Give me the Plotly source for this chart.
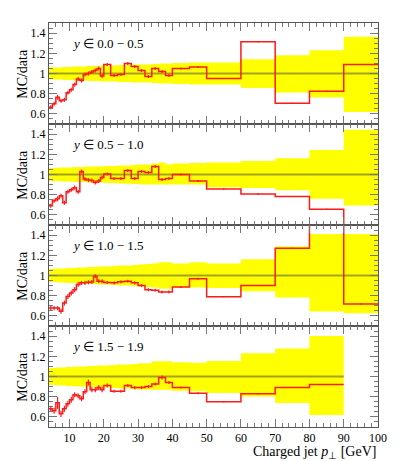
import plotly.graph_objects as go
from plotly.subplots import make_subplots

# bin edges of the charged jet pT histogram (GeV)
pt_edges = [4, 5, 6, 7, 8, 9, 10, 11, 12, 13, 14, 15, 16, 17, 18, 19, 20,
            22, 24, 26, 28, 30, 32, 34, 36, 38, 40, 45, 50, 60, 70, 80, 90, 100]

rap_labels = ["0.0 − 0.5", "0.5 − 1.0", "1.0 − 1.5", "1.5 − 1.9"]

# MC/data ratio per rapidity bin
mc_y1 = [0.665, 0.70, 0.765, 0.73, 0.74, 0.81, 0.84, 0.89, 0.945, 0.93, 0.99, 1.00,
         1.015, 1.03, 1.05, 0.975, 1.09, 0.98, 0.99, 1.10, 1.07, 1.03, 0.97, 1.05,
         1.02, 0.98, 1.05, 1.065, 0.95, 1.315, 0.705, 0.825, 1.09]
mc_y2 = [0.69, 0.74, 0.76, 0.79, 0.72, 0.83, 0.85, 0.87, 0.83, 1.03, 0.955, 0.945,
         0.94, 0.92, 0.935, 0.97, 1.005, 0.96, 0.96, 1.04, 0.96, 1.03, 1.02, 1.08,
         0.95, 0.96, 1.00, 0.935, 0.857, 0.807, 0.783, 0.657, 0.30]
mc_y3 = [0.677, 0.677, 0.677, 0.647, 0.727, 0.793, 0.827, 0.86, 0.91, 0.927, 0.927,
         0.933, 0.935, 0.993, 0.943, 0.943, 0.93, 0.927, 0.937, 0.943, 0.927, 0.90,
         0.86, 0.853, 0.837, 0.837, 0.887, 0.967, 0.79, 0.90, 1.27, 1.80, 0.717]
mc_y4 = [0.68, 0.66, 0.74, 0.63, 0.68, 0.73, 0.77, 0.82, 0.81, 0.78, 0.85, 0.94,
         0.87, 0.87, 0.89, 0.87, 0.91, 0.855, 0.855, 0.91, 0.89, 0.89, 0.90, 0.925,
         0.99, 0.94, 0.89, 0.835, 0.75, 0.83, 0.89, 0.92, None]

# MC statistical errors
err_y1 = [0.02, 0.02, 0.025, 0.02, 0.02, 0.02, 0.02, 0.02, 0.02, 0.02, 0.02, 0.02,
          0.02, 0.02, 0.02, 0.02, 0.015, 0.015, 0.015, 0.015, 0.015, 0.015, 0.015,
          0.015, 0.015, 0.015, 0.01, 0.01, 0.005, 0.005, 0.005, 0.005, 0.005]
err_y2 = err_y1
err_y3 = [0.02, 0.02, 0.02, 0.025, 0.025, 0.025, 0.025, 0.025, 0.025, 0.02, 0.02,
          0.02, 0.02, 0.02, 0.02, 0.02, 0.015, 0.015, 0.015, 0.015, 0.015, 0.015,
          0.015, 0.015, 0.015, 0.015, 0.01, 0.01, 0.005, 0.005, 0.005, 0.005, 0.005]
err_y4 = [0.03, 0.03, 0.06, 0.03, 0.03, 0.03, 0.03, 0.025, 0.025, 0.025, 0.025,
          0.03, 0.025, 0.025, 0.025, 0.025, 0.02, 0.015, 0.015, 0.015, 0.015, 0.015,
          0.015, 0.015, 0.02, 0.015, 0.01, 0.01, 0.005, 0.005, 0.005, 0.005, None]

# data uncertainty band (upper / lower half widths)
up_y1 = [0.06, 0.06, 0.06, 0.06, 0.065, 0.065, 0.065, 0.07, 0.07, 0.07, 0.07, 0.075,
         0.075, 0.075, 0.075, 0.08, 0.08, 0.08, 0.085, 0.085, 0.09, 0.09, 0.09, 0.095,
         0.10, 0.10, 0.105, 0.11, 0.11, 0.14, 0.18, 0.23, 0.365]
dn_y1 = [0.06, 0.06, 0.06, 0.06, 0.065, 0.065, 0.065, 0.07, 0.07, 0.07, 0.07, 0.075,
         0.075, 0.075, 0.075, 0.08, 0.08, 0.08, 0.085, 0.085, 0.09, 0.09, 0.09, 0.095,
         0.10, 0.10, 0.105, 0.11, 0.11, 0.143, 0.187, 0.237, 0.38]
up_y2 = [0.065, 0.065, 0.065, 0.07, 0.07, 0.07, 0.07, 0.075, 0.075, 0.075, 0.075, 0.08,
         0.08, 0.08, 0.08, 0.08, 0.085, 0.085, 0.09, 0.09, 0.095, 0.10, 0.10, 0.11,
         0.12, 0.10, 0.11, 0.115, 0.12, 0.133, 0.16, 0.243, 0.443]
dn_y2 = [0.065, 0.065, 0.065, 0.07, 0.07, 0.07, 0.07, 0.075, 0.075, 0.075, 0.075, 0.08,
         0.08, 0.08, 0.08, 0.08, 0.085, 0.085, 0.09, 0.09, 0.095, 0.10, 0.10, 0.10,
         0.10, 0.10, 0.10, 0.10, 0.127, 0.133, 0.157, 0.24, 0.307]
up_y3 = [0.065, 0.065, 0.07, 0.07, 0.07, 0.075, 0.075, 0.075, 0.08, 0.08, 0.08, 0.085,
         0.085, 0.085, 0.09, 0.09, 0.09, 0.095, 0.10, 0.10, 0.105, 0.11, 0.115, 0.12,
         0.13, 0.13, 0.12, 0.13, 0.12, 0.16, 0.287, 0.41, 0.41]
dn_y3 = [0.065, 0.065, 0.07, 0.07, 0.07, 0.075, 0.075, 0.075, 0.08, 0.08, 0.08, 0.085,
         0.085, 0.085, 0.09, 0.09, 0.09, 0.095, 0.10, 0.10, 0.105, 0.11, 0.115, 0.12,
         0.13, 0.13, 0.12, 0.12, 0.123, 0.157, 0.217, 0.357, 0.373]
up_y4 = [0.085, 0.085, 0.09, 0.09, 0.09, 0.095, 0.095, 0.095, 0.10, 0.10, 0.10, 0.105,
         0.105, 0.105, 0.11, 0.11, 0.11, 0.115, 0.12, 0.12, 0.125, 0.13, 0.13, 0.15,
         0.15, 0.15, 0.14, 0.137, 0.153, 0.23, 0.277, 0.40, None]
dn_y4 = [0.085, 0.085, 0.09, 0.09, 0.09, 0.095, 0.095, 0.095, 0.10, 0.10, 0.10, 0.105,
         0.105, 0.105, 0.11, 0.11, 0.11, 0.115, 0.12, 0.12, 0.125, 0.13, 0.13, 0.13,
         0.13, 0.13, 0.14, 0.147, 0.163, 0.197, 0.263, 0.38, None]

panels = [
    (mc_y1, err_y1, up_y1, dn_y1),
    (mc_y2, err_y2, up_y2, dn_y2),
    (mc_y3, err_y3, up_y3, dn_y3),
    (mc_y4, err_y4, up_y4, dn_y4),
]

FONT = "Liberation Serif"

fig = make_subplots(rows=4, cols=1, shared_xaxes=True, vertical_spacing=0)

for row, (mc, err, up, dn) in enumerate(panels, start=1):
    n = len([v for v in mc if v is not None])
    edges = pt_edges[:n + 1]
    centres = [(lo + hi) / 2 for lo, hi in zip(edges[:-1], edges[1:])]

    lo_band = [1 - d for d in dn[:n]]
    hi_band = [1 + u for u in up[:n]]
    fig.add_trace(go.Scatter(x=edges, y=lo_band + lo_band[-1:], mode="lines",
                             line=dict(width=0, shape="hv", color="#ffff00"),
                             hoverinfo="skip", showlegend=False), row=row, col=1)
    fig.add_trace(go.Scatter(x=edges, y=hi_band + hi_band[-1:], mode="lines",
                             line=dict(width=0, shape="hv", color="#ffff00"),
                             fill="tonexty", fillcolor="#ffff00",
                             hoverinfo="skip", showlegend=False), row=row, col=1)
    # data reference line
    fig.add_trace(go.Scatter(x=[edges[0], edges[-1]], y=[1, 1], mode="lines",
                             line=dict(width=2, color="#a3a31a"),
                             showlegend=False), row=row, col=1)
    # MC histogram
    vals = mc[:n]
    fig.add_trace(go.Scatter(x=edges, y=vals + vals[-1:], mode="lines",
                             line=dict(width=1.5, shape="hv", color="#ff1a1a"),
                             showlegend=False), row=row, col=1)
    fig.add_trace(go.Scatter(x=centres, y=vals, mode="markers",
                             marker=dict(size=1, color="#ff1a1a"),
                             error_y=dict(type="data", array=err[:n], width=0,
                                          thickness=1.2, color="#ff1a1a"),
                             showlegend=False), row=row, col=1)

    yref = "y domain" if row == 1 else f"y{row} domain"
    fig.add_annotation(text=f"<i>y</i> ∈ {rap_labels[row - 1]}", xref="x domain",
                       yref=yref, x=0.065, y=0.8, xanchor="left", yanchor="middle",
                       showarrow=False, font=dict(family=FONT, size=13, color="black"))
    fig.add_annotation(text="MC/data", xref="paper", yref=yref, x=-0.11, y=0.5,
                       textangle=-90, showarrow=False,
                       font=dict(family=FONT, size=14, color="black"))

fig.update_xaxes(range=[4, 100], tick0=0, dtick=10, ticks="inside", ticklen=8,
                 tickcolor="#777", minor=dict(dtick=2, ticklen=4, ticks="inside",
                                              tickcolor="#777"),
                 showline=True, linecolor="#555", linewidth=1, mirror="ticks",
                 showgrid=False, zeroline=False,
                 tickfont=dict(family=FONT, size=12, color="black"))
fig.update_yaxes(range=[0.5, 1.5], tick0=0, dtick=0.2, ticks="inside", ticklen=8,
                 tickcolor="#777", minor=dict(dtick=0.05, ticklen=4, ticks="inside",
                                              tickcolor="#777"),
                 showline=True, linecolor="#555", linewidth=1, mirror="ticks",
                 showgrid=False, zeroline=False,
                 tickfont=dict(family=FONT, size=12, color="black"))

fig.add_annotation(text="Charged jet <i>p</i><sub>⊥</sub> [GeV]", xref="paper",
                   yref="paper", x=1, y=-0.062, xanchor="right", yanchor="middle",
                   showarrow=False, font=dict(family=FONT, size=14, color="black"))

# the page body adds an 8 px offset, so the figure is sized to the remaining window
fig.update_layout(width=391, height=453, margin=dict(l=41, r=13, t=15, b=34),
                  plot_bgcolor="white", paper_bgcolor="white", showlegend=False)

fig.write_html("out.html")
